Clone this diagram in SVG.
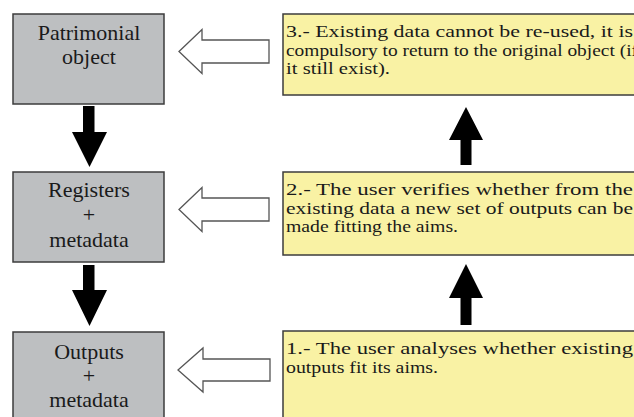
<svg xmlns="http://www.w3.org/2000/svg" width="634" height="417" viewBox="0 0 634 417">
<style>
.gray{fill:#bdbfc1;stroke:#3c3c3c;stroke-width:1.5}
.yel{fill:#f9f2a4;stroke:#3c3c3c;stroke-width:1.5}
.gt{font-family:"Liberation Serif",serif;font-size:22px;fill:#1a1a1a;text-anchor:middle}
.yt{font-family:"Liberation Serif",serif;font-size:17px;fill:#1a1a1a}
.open{fill:#ffffff;stroke:#555555;stroke-width:1.3;stroke-linejoin:miter}
.solid{fill:#000000}
</style>
<rect width="634" height="417" fill="#ffffff"/>
<g id="node-patrimonial">
<rect class="gray" x="13" y="14" width="151" height="90"/>
<text class="gt" x="89" y="40">Patrimonial</text>
<text class="gt" x="89" y="64">object</text>
</g>
<g id="node-registers">
<rect class="gray" x="13" y="172" width="151" height="90"/>
<text class="gt" x="89" y="197">Registers</text>
<text class="gt" x="89" y="222">+</text>
<text class="gt" x="89" y="247">metadata</text>
</g>
<g id="node-outputs">
<rect class="gray" x="13" y="332" width="151" height="100"/>
<text class="gt" x="89" y="359">Outputs</text>
<text class="gt" x="89" y="383">+</text>
<text class="gt" x="89" y="407">metadata</text>
</g>
<g id="node-step3">
<rect class="yel" x="283" y="14" width="360" height="81"/>
<text class="yt" x="286" y="37" textLength="347" lengthAdjust="spacingAndGlyphs">3.- Existing data cannot be re-used, it is</text>
<text class="yt" x="286" y="55.5" textLength="352" lengthAdjust="spacingAndGlyphs">compulsory to return to the original object (if</text>
<text class="yt" x="286" y="74" textLength="104" lengthAdjust="spacingAndGlyphs">it still exist).</text>
</g>
<g id="node-step2">
<rect class="yel" x="283" y="172" width="360" height="83"/>
<text class="yt" x="286" y="195" textLength="347" lengthAdjust="spacingAndGlyphs">2.- The user verifies whether from the</text>
<text class="yt" x="286" y="213.5" textLength="347" lengthAdjust="spacingAndGlyphs">existing data a new set of outputs can be</text>
<text class="yt" x="286" y="232" textLength="172" lengthAdjust="spacingAndGlyphs">made fitting the aims.</text>
</g>
<g id="node-step1">
<rect class="yel" x="283" y="331" width="360" height="100"/>
<text class="yt" x="286" y="354" textLength="347" lengthAdjust="spacingAndGlyphs">1.- The user analyses whether existing</text>
<text class="yt" x="286" y="372.5" textLength="152" lengthAdjust="spacingAndGlyphs">outputs fit its aims.</text>
</g>
<g id="connectors">
<polygon class="open" points="179,51.5 202,29.5 202,40 269,40 269,63 202,63 202,73.5"/>
<polygon class="open" points="179,209.5 202,187.5 202,198 269,198 269,221 202,221 202,231.5"/>
<polygon class="open" points="178,370 203,348 203,359 270,359 270,381 203,381 203,392"/>
<polygon class="solid" points="83,106 94.5,106 94.5,132 107,132 89.5,167 72,132 83,132"/>
<polygon class="solid" points="83,265 94.5,265 94.5,290 107,290 89.5,326 72,290 83,290"/>
<polygon class="solid" points="466,107 483,140 471.5,140 471.5,165 460.5,165 460.5,140 449,140"/>
<polygon class="solid" points="466,264 483,298 471.5,298 471.5,325 460.5,325 460.5,298 449,298"/>
</g>
</svg>
